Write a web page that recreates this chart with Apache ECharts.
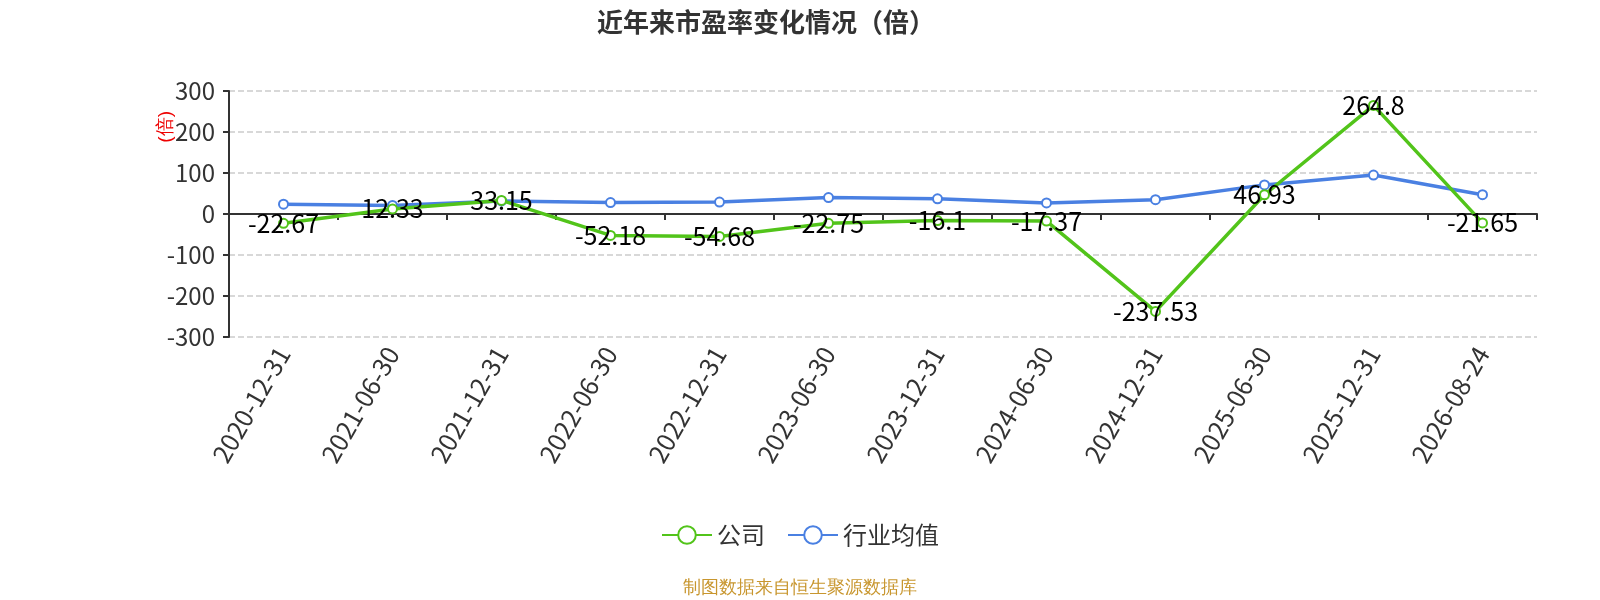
<!DOCTYPE html>
<html lang="zh">
<head>
    <meta charset="UTF-8">
    <title>近年来市盈率变化情况（倍）</title>
    <script src="https://cdn.jsdelivr.net/npm/echarts@6/dist/echarts.min.js"></script>
    <style>
        html, body { margin: 0; padding: 0; background: #fff; }
    </style>
</head>
<body>
    <div id="main" style="width: 1600px;height:600px;"></div>
    <script type="text/javascript">
        var dates = ['2020-12-31', '2021-06-30', '2021-12-31', '2022-06-30', '2022-12-31', '2023-06-30',
            '2023-12-31', '2024-06-30', '2024-12-31', '2025-06-30', '2025-12-31', '2026-08-24'];
        var company = [-22.67, 12.33, 33.15, -52.18, -54.68, -22.75, -16.1, -17.37, -237.53, 46.93, 264.8, -21.65];
        var industry = [24, 21, 32, 28, 29, 40, 37, 27, 35, 71, 95, 47];
        var yTicks = [-300, -200, -100, 0, 100, 200, 300];

        var font = '"Noto Sans CJK SC", "Noto Sans", sans-serif';
        var myChart = echarts.init(document.getElementById('main'));

        var option = {
            textStyle: { fontFamily: font },
            title: {
                text: '近年来市盈率变化情况（倍）',
                left: 592,
                top: 4,
                textStyle: { color: '#333', fontSize: 26, fontWeight: 'bold', fontFamily: font }
            },
            legend: {
                data: ['公司', '行业均值'],
                bottom: 48,
                left: 'center',
                itemWidth: 50,
                itemHeight: 22,
                itemGap: 22,
                textStyle: { fontSize: 24, color: '#333' }
            },
            graphic: [
                {
                    type: 'text',
                    left: 156,
                    top: 111,
                    rotation: Math.PI / 2,
                    style: { text: '(倍)', fill: '#e00', fontSize: 19, font: '19px ' + font }
                },
                {
                    type: 'text',
                    left: 'center',
                    bottom: 3,
                    style: { text: '制图数据来自恒生聚源数据库', fill: '#c8962e', fontSize: 18, font: '18px ' + font }
                }
            ],
            grid: { left: 229, right: 63, top: 91, bottom: 263 },
            xAxis: [
                {
                    type: 'category',
                    data: dates,
                    position: 'bottom',
                    axisLine: { show: false, onZero: false },
                    axisTick: { show: false },
                    axisLabel: { rotate: 60, fontSize: 25, color: '#333', margin: 12, interval: 0 }
                },
                {
                    type: 'category',
                    data: dates,
                    position: 'bottom',
                    axisLine: { onZero: true, lineStyle: { color: '#333', width: 2 } },
                    axisTick: { show: true, length: 6, lineStyle: { color: '#333', width: 2 } },
                    axisLabel: { show: false }
                }
            ],
            yAxis: {
                type: 'value',
                min: yTicks[0],
                max: yTicks[yTicks.length - 1],
                interval: 100,
                axisLine: { show: true, lineStyle: { color: '#333', width: 2 } },
                axisTick: { show: true, length: 6, lineStyle: { color: '#333', width: 2 } },
                axisLabel: { fontSize: 24, color: '#333', margin: 14 },
                splitLine: { lineStyle: { type: 'dashed', color: '#ccc', width: 1.5 } }
            },
            series: [
                {
                    name: '公司',
                    type: 'line',
                    data: company,
                    xAxisIndex: 0,
                    symbol: 'emptyCircle',
                    symbolSize: 9,
                    color: '#52c41a',
                    lineStyle: { width: 3.5 },
                    label: {
                        show: true,
                        position: 'inside',
                        color: '#000',
                        fontSize: 25
                    },
                    z: 3
                },
                {
                    name: '行业均值',
                    type: 'line',
                    data: industry,
                    xAxisIndex: 0,
                    symbol: 'emptyCircle',
                    symbolSize: 9,
                    color: '#4a80e2',
                    lineStyle: { width: 3.5 },
                    z: 2
                }
            ]
        };

        myChart.setOption(option);
    </script>
</body>
</html>
